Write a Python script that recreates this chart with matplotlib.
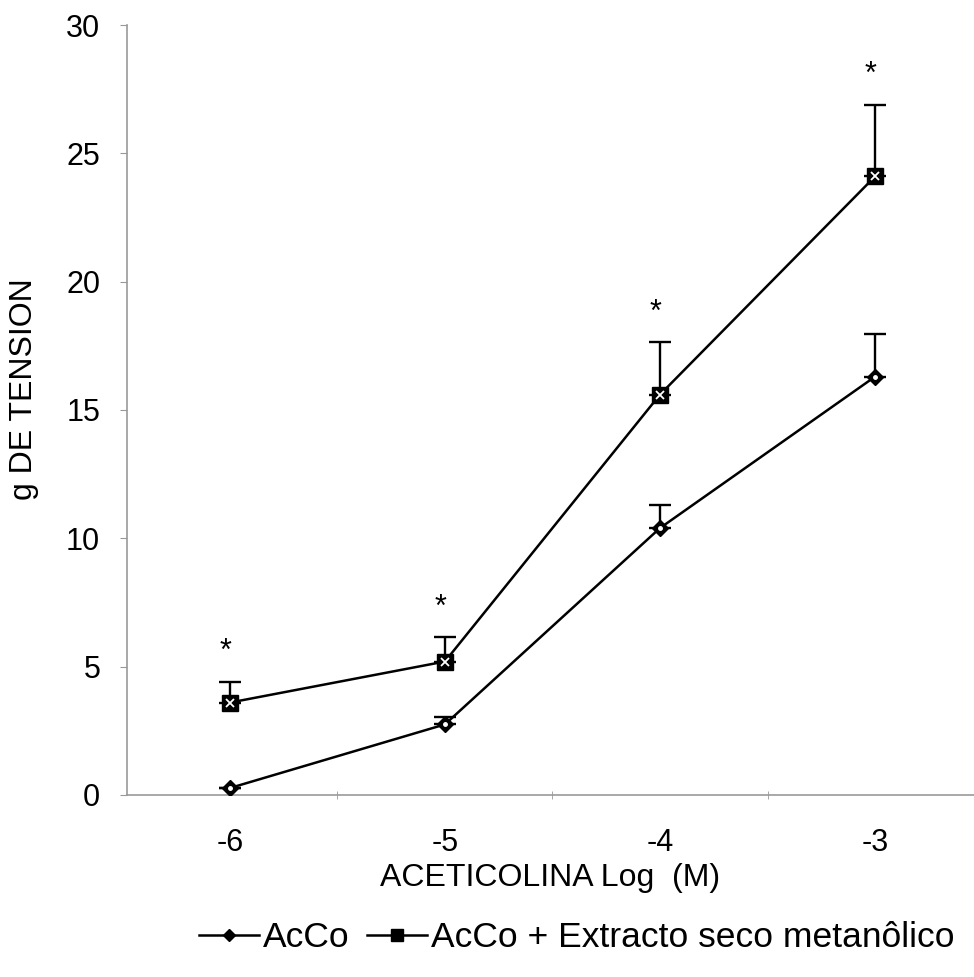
import matplotlib.pyplot as plt
import numpy as np

plt.rcParams['font.family'] = ['Liberation Sans', 'DejaVu Sans']

doses = [-6, -5, -4, -3]
acco = [0.27, 2.75, 10.4, 16.3]
acco_err = [0.0, 0.28, 0.9, 1.65]
extr = [3.6, 5.2, 15.6, 24.1]
extr_err = [0.82, 0.95, 2.05, 2.8]
stars = ['*', '*', '*', '*']

fig = plt.figure(figsize=(9.74, 9.77), dpi=100)
ax = fig.add_axes([0.130, 0.1863, 0.870, 0.7881])

# error bars (upper only)
ax.errorbar(doses, acco, yerr=[np.zeros(4), acco_err], fmt='none', ecolor='black',
            elinewidth=1.7, capsize=8, capthick=1.7, zorder=2)
ax.errorbar(doses, extr, yerr=[np.zeros(4), extr_err], fmt='none', ecolor='black',
            elinewidth=1.7, capsize=8, capthick=1.7, zorder=2)

l1, = ax.plot(doses, acco, color='black', lw=1.8, marker='D', ms=8,
              mfc='black', mec='black', zorder=3)
ax.plot(doses, acco, ls='none', marker='o', ms=2.5, mfc='white', mec='white', zorder=4)
l2, = ax.plot(doses, extr, color='black', lw=1.8, marker='s', ms=11,
              mfc='black', mec='black', zorder=3)
ax.plot(doses, extr, ls='none', marker='x', ms=6, mew=1.3, color='white', zorder=4)

for x, y, e, s in zip(doses, extr, extr_err, stars):
    ax.text(x - 0.02, y + e + 1.15, s, ha='center', va='center', fontsize=22)

ax.set_xlim(-6.48, -2.54)
ax.set_ylim(0, 30)
ax.set_xticks(doses)
ax.set_xticklabels(['-6', '-5', '-4', '-3'])
ax.set_yticks(range(0, 31, 5))
ax.set_xticks([-5.5, -4.5, -3.5], minor=True)

for side in ['top', 'right']:
    ax.spines[side].set_visible(False)
for side in ['left', 'bottom']:
    ax.spines[side].set_color('#999999')
    ax.spines[side].set_linewidth(1.2)

ax.tick_params(axis='both', which='major', labelsize=22, colors='#999999',
               labelcolor='black', length=5, direction='out')
ax.tick_params(axis='x', which='major', length=0, pad=24)
ax.tick_params(axis='x', which='minor', length=6, direction='inout', colors='#999999')
ax.tick_params(axis='y', pad=14)

ax.set_xlabel('ACETICOLINA Log  (M)', fontsize=23)
ax.set_ylabel('g DE TENSION', fontsize=23)
ax.xaxis.set_label_coords(0.5, -0.088)
ax.yaxis.set_label_coords(-0.103, 0.527)

fig.legend([l1, l2], ['AcCo', 'AcCo + Extracto seco metanôlico'], loc='center',
           bbox_to_anchor=(0.592, 0.040), ncol=2, frameon=False, fontsize=25.5,
           handlelength=1.7, handletextpad=0.1, columnspacing=0.5, markerscale=0.75)

fig.savefig('out.png', dpi=100)
